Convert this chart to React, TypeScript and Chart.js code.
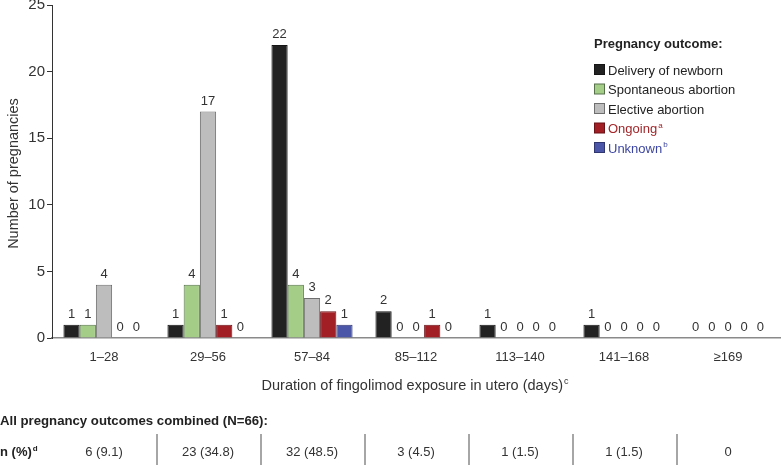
import React, { useEffect, useRef } from "react";
import { Chart, registerables } from "chart.js";

Chart.register(...registerables);

const categories = ["1–28", "29–56", "57–84", "85–112", "113–140", "141–168", "≥169"];
const delivery = [1, 1, 22, 2, 1, 1, 0];
const spontaneous = [1, 4, 4, 0, 0, 0, 0];
const elective = [4, 17, 3, 0, 0, 0, 0];
const ongoing = [0, 1, 2, 1, 0, 0, 0];
const unknown = [0, 0, 1, 0, 0, 0, 0];
const combined = ["6 (9.1)", "23 (34.8)", "32 (48.5)", "3 (4.5)", "1 (1.5)", "1 (1.5)", "0"];
const yTicks = [0, 5, 10, 15, 20, 25];

const seriesNames = ["Delivery of newborn", "Spontaneous abortion", "Elective abortion", "Ongoing", "Unknown"];
const seriesSup = ["", "", "", "a", "b"];
const fills = ["#222222", "#a4cd88", "#bdbdbd", "#a21f25", "#4b56a8"];
const borders = ["#151515", "#56704a", "#6f6f6f", "#6a1216", "#2f3670"];
const legendText = ["#222222", "#222222", "#222222", "#a3262a", "#3d46a0"];

const FONT = "'Liberation Sans', Arial, sans-serif";
const TXT = "#333333";

function drawSup(ctx: CanvasRenderingContext2D, base: string, sup: string, x: number, y: number, size: number, align: "left" | "center", bold = false) {
  const w = bold ? "bold " : "";
  ctx.font = `${w}${size}px ${FONT}`;
  const bw = ctx.measureText(base).width;
  ctx.font = `${w}${Math.round(size * 0.6)}px ${FONT}`;
  const sw = sup ? ctx.measureText(sup).width + 1 : 0;
  const start = align === "center" ? x - (bw + sw) / 2 : x;
  ctx.textAlign = "left";
  ctx.textBaseline = "alphabetic";
  ctx.font = `${w}${size}px ${FONT}`;
  ctx.fillText(base, start, y);
  if (sup) {
    ctx.font = `${w}${Math.round(size * 0.6)}px ${FONT}`;
    ctx.fillText(sup, start + bw + 1, y - size * 0.4);
  }
}

const overlay = {
  id: "overlay",
  afterDatasetsDraw(chart: any) {
    const ctx = chart.ctx as CanvasRenderingContext2D;
    ctx.save();
    ctx.fillStyle = TXT;
    ctx.font = `13px ${FONT}`;
    ctx.textAlign = "center";
    ctx.textBaseline = "alphabetic";
    chart.data.datasets.forEach((ds: any, i: number) => {
      const meta = chart.getDatasetMeta(i);
      meta.data.forEach((bar: any, j: number) => {
        ctx.fillText(String(ds.data[j]), bar.x, bar.y - 7);
      });
    });
    ctx.restore();
  },
  afterDraw(chart: any) {
    const ctx = chart.ctx as CanvasRenderingContext2D;
    const xs = chart.scales.x;
    const area = chart.chartArea;
    ctx.save();
    ctx.fillStyle = TXT;
    // y title
    ctx.save();
    ctx.translate(18, (area.top + area.bottom) / 2 + 2);
    ctx.rotate(-Math.PI / 2);
    ctx.font = `14.5px ${FONT}`;
    ctx.textAlign = "center";
    ctx.textBaseline = "alphabetic";
    ctx.fillText("Number of pregnancies", 0, 0);
    ctx.restore();
    // x title
    drawSup(ctx, "Duration of fingolimod exposure in utero (days)", "c", 415, 390, 14.5, "center");
    // legend
    const lx = 594;
    ctx.font = `bold 13px ${FONT}`;
    ctx.textAlign = "left";
    ctx.textBaseline = "middle";
    ctx.fillStyle = "#222";
    ctx.fillText("Pregnancy outcome:", lx, 44);
    seriesNames.forEach((name, i) => {
      const cy = 70 + i * 19.5;
      ctx.fillStyle = fills[i];
      ctx.fillRect(lx + 0.5, cy - 5.5, 10, 10);
      ctx.strokeStyle = borders[i];
      ctx.lineWidth = 1;
      ctx.strokeRect(lx + 0.5, cy - 5.5, 10, 10);
      ctx.fillStyle = legendText[i];
      drawSup(ctx, name, seriesSup[i], lx + 14, cy + 4.5, 13, "left");
    });
    // table
    ctx.fillStyle = "#222";
    ctx.font = `bold 13.2px ${FONT}`;
    ctx.textAlign = "left";
    ctx.textBaseline = "alphabetic";
    ctx.fillText("All pregnancy outcomes combined (N=66):", 0, 425);
    drawSup(ctx, "n (%)", "d", 0, 456, 13, "left", true);
    ctx.fillStyle = TXT;
    ctx.font = `13px ${FONT}`;
    ctx.textAlign = "center";
    combined.forEach((t, i) => {
      ctx.fillText(t, xs.getPixelForValue(i), 456);
    });
    ctx.strokeStyle = "#888";
    ctx.lineWidth = 1.5;
    for (let i = 0; i < categories.length - 1; i++) {
      const bx = Math.round((xs.getPixelForValue(i) + xs.getPixelForValue(i + 1)) / 2) + 1;
      ctx.beginPath();
      ctx.moveTo(bx, 434);
      ctx.lineTo(bx, 465);
      ctx.stroke();
    }
    ctx.restore();
  },
};

export default function App() {
  const ref = useRef<HTMLCanvasElement>(null);
  useEffect(() => {
    const ds = [delivery, spontaneous, elective, ongoing, unknown].map((d, i) => ({
      label: seriesNames[i],
      data: d,
      backgroundColor: fills[i],
      borderColor: borders[i],
      borderWidth: 1,
      borderSkipped: "bottom" as const,
    }));
    const chart = new Chart(ref.current!, {
      type: "bar",
      data: { labels: categories, datasets: ds },
      options: {
        animation: false,
        responsive: false,
        maintainAspectRatio: false,
        layout: { padding: { left: 0, right: 1, top: 5, bottom: 99 } },
        datasets: { bar: { barPercentage: 1, categoryPercentage: 0.78 } },
        plugins: { legend: { display: false }, tooltip: { enabled: false }, title: { display: false } },
        scales: {
          x: {
            grid: { display: false, drawTicks: false },
            border: { display: true, color: "#8a8a8a", width: 1.5 },
            ticks: { color: TXT, font: { family: FONT, size: 13 }, padding: 12, maxRotation: 0, autoSkip: false },
            afterFit: (s: any) => {
              s.height = 30;
              s.paddingLeft = 0;
              s.paddingRight = 0;
            },
          },
          y: {
            min: 0,
            max: 25,
            afterBuildTicks: (s: any) => {
              s.ticks = yTicks.map((v) => ({ value: v }));
            },
            grid: { drawOnChartArea: false, drawTicks: true, tickLength: 5, color: "#333" },
            border: { display: true, color: "#333", width: 1 },
            ticks: { color: TXT, font: { family: FONT, size: 15 }, padding: 2 },
            afterFit: (s: any) => {
              s.width = 52;
              s.paddingTop = 0;
              s.paddingBottom = 0;
            },
          },
        },
      },
      plugins: [overlay],
    });
    return () => chart.destroy();
  }, []);
  return (
    <div style={{ position: "fixed", left: 0, top: 0, width: 781, height: 467, background: "#fff" }}>
      <canvas ref={ref} width={781} height={467} style={{ width: 781, height: 467 }} />
    </div>
  );
}
